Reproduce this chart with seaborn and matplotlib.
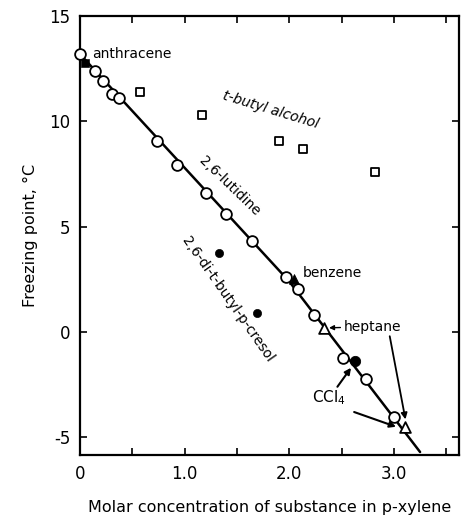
import matplotlib
matplotlib.use("Agg")
import matplotlib.pyplot as plt
import seaborn as sns

# p-xylene + various solutes (open circles on the common line)
line_conc = [0.0, 0.14, 0.22, 0.31, 0.37, 0.74, 0.93, 1.20, 1.40, 1.64,
             1.97, 2.08, 2.24, 2.51, 2.73, 3.00]
line_fp = [13.2, 12.4, 11.9, 11.3, 11.1, 9.05, 7.95, 6.6, 5.6, 4.3,
           2.6, 2.05, 0.8, -1.25, -2.25, -4.05]

# drawn line through the open circles
fit_conc = [0.0, 2.0, 3.25]
fit_fp = [13.2, 2.4, -5.7]

anthracene_conc = [0.05]
anthracene_fp = [12.8]

butanol_conc = [0.57, 1.17, 1.90, 2.13, 2.82]
butanol_fp = [11.4, 10.3, 9.05, 8.7, 7.6]

cresol_conc = [1.33, 1.69]
cresol_fp = [3.75, 0.9]

ccl4_conc = [2.63]
ccl4_fp = [-1.4]

benzene_conc = [2.05]
benzene_fp = [2.5]

heptane_conc = [2.33, 3.11]
heptane_fp = [0.2, -4.5]

x_ticks = [0, 1, 2, 3]
x_ticklabels = ["0", "1.0", "2.0", "3.0"]
y_ticks = [-5, 0, 5, 10, 15]
y_ticklabels = ["-5", "0", "5", "10", "15"]

sns.set_style("ticks")
plt.rcParams["font.family"] = ["DejaVu Sans"]
plt.rcParams["axes.unicode_minus"] = False
plt.rcParams["mathtext.fontset"] = "dejavusans"
plt.rcParams["text.color"] = "black"
plt.rcParams["axes.labelcolor"] = "black"
plt.rcParams["xtick.color"] = "black"
plt.rcParams["ytick.color"] = "black"
plt.rcParams["axes.edgecolor"] = "black"

fig = plt.figure(figsize=(4.73, 5.22), dpi=100)
ax = fig.add_axes([0.169, 0.128, 0.801, 0.841])

sns.lineplot(x=fit_conc, y=fit_fp, color="black", linewidth=1.8, ax=ax, zorder=2)

kw = dict(ax=ax, legend=False, clip_on=False)
sns.scatterplot(x=line_conc, y=line_fp, marker="o", s=60, facecolor="white",
                edgecolor="black", linewidth=1.3, zorder=3, **kw)
sns.scatterplot(x=anthracene_conc, y=anthracene_fp, marker="s", s=30,
                color="black", edgecolor="black", zorder=4, **kw)
sns.scatterplot(x=butanol_conc, y=butanol_fp, marker="s", s=28, facecolor="white",
                edgecolor="black", linewidth=1.3, zorder=3, **kw)
sns.scatterplot(x=cresol_conc, y=cresol_fp, marker="o", s=35, color="black",
                edgecolor="black", zorder=3, **kw)
sns.scatterplot(x=ccl4_conc, y=ccl4_fp, marker="o", s=55, color="black",
                edgecolor="black", zorder=4, **kw)
sns.scatterplot(x=benzene_conc, y=benzene_fp, marker="^", s=50, color="black",
                edgecolor="black", zorder=4, **kw)
sns.scatterplot(x=heptane_conc, y=heptane_fp, marker="^", s=60, facecolor="white",
                edgecolor="black", linewidth=1.3, zorder=4, **kw)

# labels
fs = 10
ax.text(0.12, 13.2, "anthracene", fontsize=fs, va="center", ha="left")
ax.text(1.82, 10.55, "t-butyl alcohol", fontsize=fs, style="italic",
        rotation=-17, ha="center", va="center", rotation_mode="anchor")
ax.text(1.43, 6.95, "2,6-lutidine", fontsize=fs, rotation=-44,
        ha="center", va="center", rotation_mode="anchor")
ax.text(1.41, 1.55, "2,6-di-t-butyl-p-cresol", fontsize=fs, rotation=-55,
        ha="center", va="center", rotation_mode="anchor")
ax.text(2.13, 2.8, "benzene", fontsize=fs, ha="left", va="center")
ax.annotate("heptane", xy=(heptane_conc[0] + 0.05, heptane_fp[0]),
            xytext=(2.52, 0.25), fontsize=fs, ha="left", va="center",
            arrowprops=dict(arrowstyle="-|>", color="black", lw=1.0,
                            mutation_scale=7, shrinkA=0, shrinkB=0))
ax.annotate("", xy=(heptane_conc[1], heptane_fp[1] + 0.35),
            xytext=(2.96, -0.2),
            arrowprops=dict(arrowstyle="-|>", color="black", lw=1.3,
                            mutation_scale=9, shrinkA=0, shrinkB=0))
ax.text(2.38, -3.1, "CCl$_4$", fontsize=fs + 1, ha="center", va="center")
ax.annotate("", xy=(ccl4_conc[0] - 0.04, ccl4_fp[0] - 0.3),
            xytext=(2.46, -2.6),
            arrowprops=dict(arrowstyle="-|>", color="black", lw=1.5,
                            mutation_scale=9, shrinkA=0, shrinkB=0))
ax.annotate("", xy=(3.02, -4.5), xytext=(2.62, -3.8),
            arrowprops=dict(arrowstyle="-|>", color="black", lw=1.5,
                            mutation_scale=9, shrinkA=0, shrinkB=0))

ax.set_xlim(0, 3.62)
ax.set_ylim(-5.85, 15)
ax.set_xticks(x_ticks)
ax.set_xticklabels(x_ticklabels)
ax.set_xticks([0.5, 1.5, 2.5, 3.5], minor=True)
ax.set_yticks(y_ticks)
ax.set_yticklabels(y_ticklabels)
ax.tick_params(which="both", direction="in", top=True, right=True,
               length=5, width=1.2, labelsize=12, pad=7)
ax.tick_params(which="minor", length=5)
for sp in ax.spines.values():
    sp.set_linewidth(1.6)
    sp.set_visible(True)

ax.set_xlabel("Molar concentration of substance in p-xylene", fontsize=11.5,
              labelpad=12)
ax.set_ylabel("Freezing point, °C", fontsize=11.5, labelpad=8)

fig.savefig("out.png", dpi=100)
